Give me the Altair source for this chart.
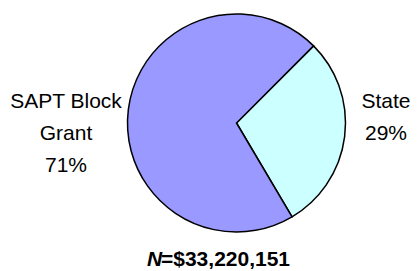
import altair as alt
import pandas as pd

categories = ["State", "SAPT Block Grant"]
values = [29, 71]
label_lines = [["State", "29%"], ["SAPT Block", "Grant", "71%"]]
colors = ["#CCFFFF", "#9999FF"]
total_prefix = "N"
total_value = "=$33,220,151"

df = pd.DataFrame({"category": categories, "value": values, "order": [0, 1]})

start = 0.785
pie = alt.Chart(df).mark_arc(outerRadius=109, stroke="black", strokeWidth=1.5).encode(
    theta=alt.Theta("value:Q", stack=True, scale=alt.Scale(range=[start, start + 6.283185])),
    color=alt.Color("category:N", scale=alt.Scale(domain=categories, range=colors), legend=None),
    order=alt.Order("order:Q"),
    x=alt.value(228.5),
    y=alt.value(115),
)

font = "Liberation Sans"

lab_state = alt.Chart(pd.DataFrame({"t": [label_lines[0]]})).mark_text(
    font=font, fontSize=21, align="center", baseline="alphabetic", lineHeight=32, color="black"
).encode(text="t", x=alt.value(378), y=alt.value(100))

lab_sapt = alt.Chart(pd.DataFrame({"t": [label_lines[1]]})).mark_text(
    font=font, fontSize=21, align="center", baseline="alphabetic", lineHeight=32, color="black"
).encode(text="t", x=alt.value(58), y=alt.value(100))

n_lab = alt.Chart(pd.DataFrame({"t": [total_prefix]})).mark_text(
    font=font, fontSize=21, fontWeight="bold", fontStyle="italic", align="left", baseline="alphabetic", color="black"
).encode(text="t:N", x=alt.value(139), y=alt.value(258))

v_lab = alt.Chart(pd.DataFrame({"t": [total_value]})).mark_text(
    font=font, fontSize=21, fontWeight="bold", align="left", baseline="alphabetic", color="black"
).encode(text="t:N", x=alt.value(153), y=alt.value(258))

chart = alt.layer(pie, lab_state, lab_sapt, n_lab, v_lab).properties(
    width=404, height=263, padding=0, autosize="none"
).configure_view(stroke=None)

chart.save("out.html", embed_options={"renderer": "svg", "actions": False})
